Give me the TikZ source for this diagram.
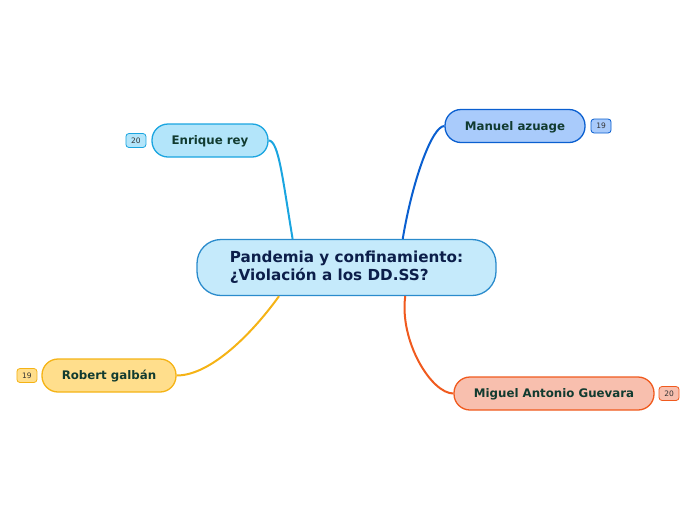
\documentclass[tikz,border=0pt]{standalone}
\usepackage{fontspec}
\setmainfont{DejaVu Sans}
\usepackage{tikz}
\usetikzlibrary{positioning}
\definecolor{centralfill}{HTML}{C5EAFB}
\definecolor{centraldraw}{HTML}{2A8BCC}
\definecolor{centraltext}{HTML}{0C1E4A}
\definecolor{subtext}{HTML}{113B30}
\definecolor{enrique}{HTML}{1AA5E0}
\definecolor{enriquefill}{HTML}{B3E5FA}
\definecolor{manuel}{HTML}{0A5FD0}
\definecolor{manuelfill}{HTML}{A9CBFB}
\definecolor{robert}{HTML}{F5B315}
\definecolor{robertfill}{HTML}{FFDE8C}
\definecolor{miguel}{HTML}{F05A1E}
\definecolor{miguelfill}{HTML}{F8BFAE}

\begin{document}
\begin{tikzpicture}[x=1pt,y=-1pt,
  topic/.style={draw=#1,fill=#1fill,line width=1.3pt,rounded corners=16pt,
                minimum height=33pt,inner xsep=14pt,text height=8.5pt,text depth=0pt,
                font=\fontsize{11.8}{13}\selectfont\bfseries,text=subtext},
  badge/.style={draw=#1,fill=#1fill,line width=0.8pt,rounded corners=3pt,
                minimum width=20pt,minimum height=14pt,inner sep=0pt,
                font=\fontsize{7.5}{8}\selectfont,text=black!80},
  branch/.style={draw=#1,line width=2pt}
]
\useasboundingbox (0,0) rectangle (696,520);

\node[draw=centraldraw,fill=centralfill,line width=1.3pt,rounded corners=24pt,
      minimum width=299pt,minimum height=56pt,align=left,
      font=\fontsize{15.2}{18}\selectfont\bfseries,text=centraltext] (central) at (346.5,267.5)
  {Pandemia y confinamiento:\\¿Violación a los DD.SS?};

\node[topic=enrique,minimum width=116pt] (enriquebox) at (210,140.5) {Enrique rey};
\node[topic=manuel,minimum width=140pt] (manuelbox) at (515,126) {Manuel azuage};
\node[topic=robert,minimum width=134pt] (robertbox) at (109,375.5) {Robert galbán};
\node[topic=miguel,minimum width=200pt] (miguelbox) at (554,393.5) {Miguel Antonio Guevara};

\node[badge=enrique,left=5pt of enriquebox] (enriquen) {20};
\node[badge=manuel,right=5pt of manuelbox] (manueln) {19};
\node[badge=robert,left=4pt of robertbox] (robertn) {19};
\node[badge=miguel,right=4pt of miguelbox] (migueln) {20};

\draw[branch=enrique] (enriquebox.east) .. controls +(10,0) and +(-10,-60) .. (central.152);
\draw[branch=manuel] (manuelbox.west) .. controls +(-12,0) and +(10,-60) .. (central.27);
\draw[branch=robert] (robertbox.east) .. controls +(35,0) and +(-25,35) .. (central.203);
\draw[branch=miguel] (miguelbox.west) .. controls +(-22,0) and +(-6,45) .. (central.334);
\end{tikzpicture}
\end{document}
